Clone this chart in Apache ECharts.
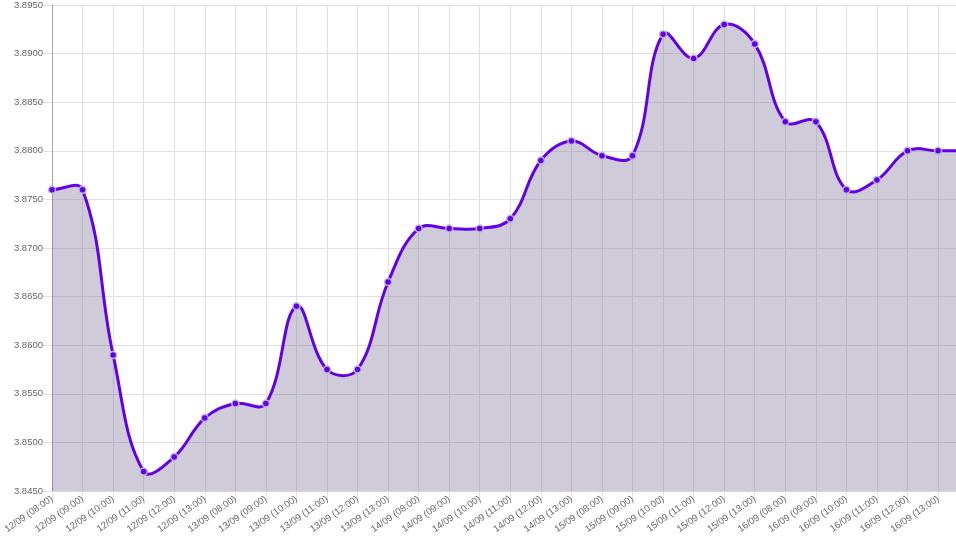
<!DOCTYPE html>
<html>
<head>
<meta charset="utf-8">
<script src="https://cdn.jsdelivr.net/npm/echarts@6/dist/echarts.min.js"></script>
<style>
html,body{margin:0;padding:0;background:#fff;overflow:hidden;}
#chart{width:956px;height:536px;}
</style>
</head>
<body>
<div id="chart"></div>
<script>
const categories = [
  '12/09 (08:00)','12/09 (09:00)','12/09 (10:00)','12/09 (11:00)','12/09 (12:00)','12/09 (13:00)',
  '13/09 (08:00)','13/09 (09:00)','13/09 (10:00)','13/09 (11:00)','13/09 (12:00)','13/09 (13:00)',
  '14/09 (08:00)','14/09 (09:00)','14/09 (10:00)','14/09 (11:00)','14/09 (12:00)','14/09 (13:00)',
  '15/09 (08:00)','15/09 (09:00)','15/09 (10:00)','15/09 (11:00)','15/09 (12:00)','15/09 (13:00)',
  '16/09 (08:00)','16/09 (09:00)','16/09 (10:00)','16/09 (11:00)','16/09 (12:00)','16/09 (13:00)',
  ''
];
const values = [
  3.8760, 3.8760, 3.8590, 3.8470, 3.8485, 3.8525,
  3.8540, 3.8540, 3.8640, 3.8575, 3.8575, 3.8665,
  3.8720, 3.8720, 3.8720, 3.8730, 3.8790, 3.8810,
  3.8795, 3.8795, 3.8920, 3.8895, 3.8930, 3.8910,
  3.8830, 3.8830, 3.8760, 3.8770, 3.8800, 3.8800,
  3.8800
];
const yMin = 3.8450, yMax = 3.8950, yStep = 0.0050;
const tension = 0.4;

function splinePath(pts){
  // Cardinal-style spline (same construction as Chart.js tension curves)
  const n = pts.length, cps = [];
  for (let i=0;i<n;i++){
    const p0 = pts[Math.max(0,i-1)], p1 = pts[i], p2 = pts[Math.min(n-1,i+1)];
    const d01 = Math.hypot(p1[0]-p0[0], p1[1]-p0[1]);
    const d12 = Math.hypot(p2[0]-p1[0], p2[1]-p1[1]);
    let s01 = d01/(d01+d12), s12 = d12/(d01+d12);
    if (!isFinite(s01)) s01 = 0; if (!isFinite(s12)) s12 = 0;
    const fa = tension*s01, fb = tension*s12;
    cps.push({
      prev:[p1[0]-fa*(p2[0]-p0[0]), p1[1]-fa*(p2[1]-p0[1])],
      next:[p1[0]+fb*(p2[0]-p0[0]), p1[1]+fb*(p2[1]-p0[1])]
    });
  }
  return cps;
}

const chart = echarts.init(document.getElementById('chart'), null, {renderer:'canvas'});
chart.setOption({
  animation:false,
  grid:{left:52, top:5, right:-12.6, bottom:45, outerBoundsMode:'none', containLabel:false},
  xAxis:{
    type:'category', data:categories, boundaryGap:false,
    axisLine:{show:true, lineStyle:{color:'#d6d6d6', width:1}},
    axisTick:{show:true, length:9, lineStyle:{color:'#e0e0e0'}},
    axisLabel:{rotate:35, fontSize:9.5, color:'#666', fontFamily:'Liberation Sans, Arial', margin:7, interval:0},
    splitLine:{show:true, lineStyle:{color:'#e0e0e0', width:1}}
  },
  yAxis:{
    type:'value', min:yMin, max:yMax, interval:yStep,
    axisLine:{show:true, lineStyle:{color:'#a8a8a8', width:1}},
    axisTick:{show:true, length:9, lineStyle:{color:'#e0e0e0'}},
    axisLabel:{formatter:v=>v.toFixed(4), fontSize:9.5, color:'#666', fontFamily:'Liberation Sans, Arial', margin:9},
    splitLine:{show:true, lineStyle:{color:'#e0e0e0', width:1}}
  },
  series:[{
    type:'custom',
    data:[[0]],
    z:2,
    clip:false,
    renderItem:function(params, api){
      const pts = values.map((v,i)=>api.coord([i, v]));
      const base = api.coord([0, yMin])[1];
      const cps = splinePath(pts);
      let d = 'M' + pts[0][0] + ' ' + pts[0][1];
      for (let i=1;i<pts.length;i++){
        const a = cps[i-1].next, b = cps[i].prev, p = pts[i];
        d += ' C' + a[0] + ' ' + a[1] + ' ' + b[0] + ' ' + b[1] + ' ' + p[0] + ' ' + p[1];
      }
      const area = d + ' L' + pts[pts.length-1][0] + ' ' + base + ' L' + pts[0][0] + ' ' + base + ' Z';
      return {
        type:'group',
        children:[
          {type:'path', shape:{pathData:area}, style:{fill:'rgba(118,106,144,0.35)', stroke:null}},
          {type:'path', shape:{pathData:d}, style:{fill:null, stroke:'#6200ea', lineWidth:3, lineJoin:'round'}}
        ]
      };
    }
  },{
    type:'scatter', data:values, z:3,
    symbol:'circle', symbolSize:7,
    itemStyle:{color:'#6200ea', borderColor:'rgba(195,185,220,0.95)', borderWidth:1.5, opacity:1}
  }]
});
</script>
</body>
</html>
